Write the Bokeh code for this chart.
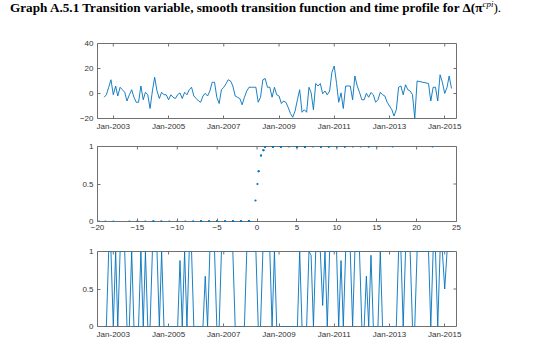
import pandas as pd
from bokeh.plotting import figure
from bokeh.layouts import column
from bokeh.models import Range1d, FixedTicker, DatetimeTickFormatter, ColumnDataSource, Div
from bokeh.embed import file_html
from bokeh.resources import INLINE

# ---------------- data (monthly, first month Sep-2002) ----------------
start_month = "2002-09-01"
transition_var = [
    -3, -1, 5, 11,
    -1, 6, -2, 5, 3, 1, -6, -1, 3, -3,
    -7, -7, 6, -5, 1, -1, -12, 2, 13, 2,
    -4, 1, -1, -1, -5, -1, -3, -4, -1, 0.5,
    -4, 1, -1, 3, 5, -2, -4, -6, -7, -2,
    0.2, -2, 2, 9, 9, -3, -8, 3, 5, 8,
    11, 10, 6, -2, -3, -4, -9, -3, 2, 5,
    5, 5, 5, -7, -3, 11, 12, 5, 5, -3,
    5, -1, -2, -8, -6, -7, -11, -16, -19, -14,
    -5, 3, -15, -13, -15, 5, 0.8, -13, 8, 6,
    8, -0.2, 2, -1, 2, 17, 22, 8, -7, 0.5,
    -12, 6, 6, 6, -5, 14, 6, 1, -5, -5,
    0.2, -3, 0.8, -1, -7, -5, 1, -1, -2, -7,
    -10, -13, -18, -13, 5, 6, -1, 7, 3, 2,
    -1, -19.8, 10, None, None, None, None, 8, -6, 5,
    5, -6, 15, 9, 0.05, 5, 14, 4,
]
transition_fn = [
    0, 0, 1, 1,
    0, 1, 0, 1, 1, 1, 0, 0, 1, 0,
    0, 0, 1, 0, 1, 0, 0, 1, 1, 1,
    0, 1, 0, 0, 0, 0, 0, 0, 0, 0.88,
    0, 1, 0, 1, 1, 0, 0, 0, 0, 0,
    0.67, 0, 1, 1, 1, 0, 0, 1, 1, 1,
    1, 1, 1, 0, 0, 0, 0, 0, 1, 1,
    1, 1, 1, 0, 0, 1, 1, 1, 1, 0,
    1, 0, 0, 0, 0, 0, 0, 0, 0, 0,
    0, 1, 0, 0, 0, 1, 0.95, 0, 1, 1,
    1, 0.28, 1, 0, 1, 1, 1, 1, 0, 0.88,
    0, 1, 1, 1, 0, 1, 1, 1, 0, 0,
    0.67, 0, 0.95, 0, 0, 0, 1, 0, 0, 0,
    0, 0, 0, 0, 1, 1, 0, 1, 1, 1,
    0, 0, 1, None, None, None, None, 1, 0, 1,
    1, 0, 1, 1, 0.5, 1, 1, 1,
]
date_tick_years = [2003, 2005, 2007, 2009, 2011, 2013, 2015]
p1_yticks = [-20, 0, 20, 40]
p2_xticks = [-20, -15, -10, -5, 0, 5, 10, 15, 20, 25]
unit_yticks = [0, 0.5, 1]
title_main = "Graph A.5.1 Transition variable, smooth transition function and time profile for \u0394(\u03c0"
title_sup = "cpi"
title_end = ")."

dates = pd.date_range(start_month, periods=len(transition_var), freq="MS")
df = pd.DataFrame({"date": dates, "s": transition_var, "g": transition_fn}).dropna()
src = ColumnDataSource(df)

BLUE = "#0072BD"
AXC = "#707070"
TXT = "#333333"
FONT = "Liberation Sans"
W = 536
BL, FW, FH = 97, 359, 75
BR = W - BL - FW
TICK = 3

date_ticks = [pd.Timestamp(f"{y}-01-01").value // 10**6 for y in date_tick_years]
d0 = pd.Timestamp("2002-06-06").value // 10**6
d1 = pd.Timestamp("2015-06-06").value // 10**6

fmt = DatetimeTickFormatter(years="%b-%Y", months="%b-%Y", days="%b-%Y",
                            hours="%b-%Y", minutes="%b-%Y", seconds="%b-%Y",
                            milliseconds="%b-%Y", microseconds="%b-%Y")


def make_panel(top, bottom, xr, yr, xticks, yticks, xtype="linear"):
    p = figure(width=W, height=top + FH + bottom, x_range=Range1d(*xr), y_range=Range1d(*yr),
               x_axis_type=xtype, output_backend="svg", toolbar_location=None,
               min_border_left=BL, min_border_right=BR, min_border_top=top,
               min_border_bottom=bottom)
    p.frame_width = FW
    p.frame_height = FH
    p.outline_line_color = AXC
    p.outline_line_width = 1
    p.grid.visible = False
    xa, ya = p.xaxis[0], p.yaxis[0]
    for ax in (xa, ya):
        ax.axis_line_color = None
        ax.major_tick_line_color = AXC
        ax.major_tick_in = TICK
        ax.major_tick_out = 0
        ax.minor_tick_line_color = None
        ax.major_label_text_font = FONT
        ax.major_label_text_font_size = "8px"
        ax.major_label_text_color = TXT
    xa.ticker = FixedTicker(ticks=xticks)
    ya.ticker = FixedTicker(ticks=yticks)
    xa.major_label_standoff = 3
    ya.major_label_standoff = 4
    if xtype == "datetime":
        xa.formatter = fmt
    # box ticks on top and right edges (inward), computed from the tick lists
    dy = (yr[1] - yr[0]) * TICK / FH
    dx = (xr[1] - xr[0]) * TICK / FW
    p.segment(x0=xticks, y0=[yr[1]] * len(xticks), x1=xticks, y1=[yr[1] - dy] * len(xticks),
              line_color=AXC, line_width=1)
    p.segment(x0=[xr[1]] * len(yticks), y0=yticks, x1=[xr[1] - dx] * len(yticks), y1=yticks,
              line_color=AXC, line_width=1)
    return p


# ---------------- title ----------------
title_html = (
    '<div style="margin:0;padding:0 0 0 10px;white-space:nowrap;'
    'font-family:\'Liberation Serif\';font-weight:bold;font-size:13.2px;'
    'line-height:15px;color:black;">'
    f'{title_main}<sup style="font-style:italic;font-weight:normal;font-size:9px;'
    f'line-height:0;vertical-align:5px;">{title_sup}</sup>'
    f'<span style="font-weight:normal">{title_end}</span></div>'
)
t = Div(text=title_html, width=W, height=36, margin=0)

# ---------------- panel 1: transition variable ----------------
p1 = make_panel(7, 22, (d0, d1), (-20, 40), date_ticks, p1_yticks, xtype="datetime")
p1.line("date", "s", source=src, line_color=BLUE, line_width=0.9)

# ---------------- panel 2: transition function ----------------
p2 = make_panel(6, 23, (-20, 25), (0, 1), p2_xticks, unit_yticks)
p2.scatter("s", "g", source=src, size=2.2, color=BLUE, line_color=None)

# ---------------- panel 3: time profile ----------------
p3 = make_panel(7, 22, (d0, d1), (0, 1), date_ticks, unit_yticks, xtype="datetime")
p3.line("date", "g", source=src, line_color=BLUE, line_width=0.9)

layout = column(t, p1, p2, p3, spacing=0)
open("out.html", "w").write(file_html(layout, INLINE))
